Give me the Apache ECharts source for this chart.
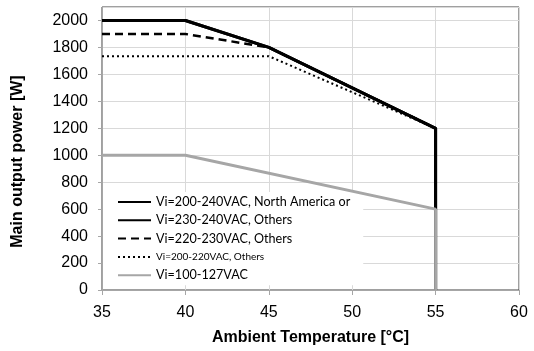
<!DOCTYPE html>
<html>
<head>
<meta charset="utf-8">
<script src="https://cdn.jsdelivr.net/npm/echarts@6/dist/echarts.min.js"></script>
<style>html,body{margin:0;padding:0;background:#fff}#c{width:534px;height:351px}</style>
</head>
<body>
<div id="c"></div>
<script>
const xTicks = [35, 40, 45, 50, 55, 60];
const yTicks = [0, 200, 400, 600, 800, 1000, 1200, 1400, 1600, 1800, 2000];
const seriesNames = [
  'Vi=200-240VAC, North America or',
  'Vi=230-240VAC, Others',
  'Vi=220-230VAC, Others',
  'Vi=200-220VAC, Others',
  'Vi=100-127VAC'
];
const s1 = [[35, 2000], [40, 2000], [45, 1800], [55, 1200], [55, 0]];
const s2 = [[35, 2000], [40, 2000], [45, 1800], [55, 1200], [55, 0]];
const s3 = [[35, 1900], [40, 1900], [45, 1800], [55, 1200], [55, 0]];
const s4 = [[35, 1735], [45, 1735], [55, 1200], [55, 0]];
const s5 = [[35, 1000], [40, 1000], [55, 600], [55, 0]];

const chart = echarts.init(document.getElementById('c'));
const mk = (name, data, color, width, type, z) => ({
  name, type: 'line', data, symbol: 'none', symbolSize: 0, z,
  lineStyle: { color, width, type }, itemStyle: { color }
});
chart.setOption({
  animation: false,
  grid: { left: 102, right: 15, top: 7, bottom: 61, show: true, borderColor: '#404040', borderWidth: 1 },
  legend: {
    orient: 'vertical', left: 103, top: 192,
    backgroundColor: '#fff', padding: [3, 13, 3, 14],
    itemWidth: 33, itemHeight: 14, itemGap: 4.3,
    itemStyle: { opacity: 0 },
    textStyle: { fontFamily: 'Lato', fontSize: 12.6, color: '#000', lineHeight: 14 },
    data: seriesNames.map((n, i) => i === 3 ? { name: n, textStyle: { fontSize: 10 } } : { name: n })
  },
  xAxis: {
    type: 'value', min: 35, max: 60, interval: 5,
    name: 'Ambient Temperature [°C]', nameLocation: 'middle', nameGap: 40,
    nameTextStyle: { fontFamily: 'Liberation Sans', fontWeight: 'bold', fontSize: 16, color: '#000' },
    axisLine: { show: true, lineStyle: { color: '#a6a6a6' } },
    axisTick: { show: true, length: 5, lineStyle: { color: '#a6a6a6' } },
    axisLabel: { margin: 15, fontFamily: 'Liberation Sans', fontSize: 16, color: '#000' },
    splitLine: { show: true, lineStyle: { color: '#d9d9d9' } }
  },
  yAxis: {
    type: 'value', min: 0, max: 2100, interval: 200,
    name: 'Main output power [W]', nameLocation: 'middle', nameGap: 76,
    nameTextStyle: { fontFamily: 'Liberation Sans', fontWeight: 'bold', fontSize: 16, color: '#000', padding: [0, 26, 0, 0] },
    axisLine: { show: true, lineStyle: { color: '#a6a6a6' } },
    axisTick: { show: true, length: 4, lineStyle: { color: '#a6a6a6' } },
    axisLabel: { margin: 14, fontFamily: 'Liberation Sans', fontSize: 16, color: '#000', showMaxLabel: false,
      formatter: v => yTicks.includes(v) ? String(v) : '' },
    splitLine: { show: true, lineStyle: { color: '#d9d9d9' } }
  },
  series: [
    mk(seriesNames[0], s1, '#000', 3, 'solid', 5),
    mk(seriesNames[1], s2, '#000', 3, 'solid', 5),
    mk(seriesNames[2], s3, '#000', 2.5, [8, 5], 4),
    mk(seriesNames[3], s4, '#000', 2, [2, 3], 4),
    mk(seriesNames[4], s5, '#a6a6a6', 3, 'solid', 6)
  ]
});
</script>
</body>
</html>
